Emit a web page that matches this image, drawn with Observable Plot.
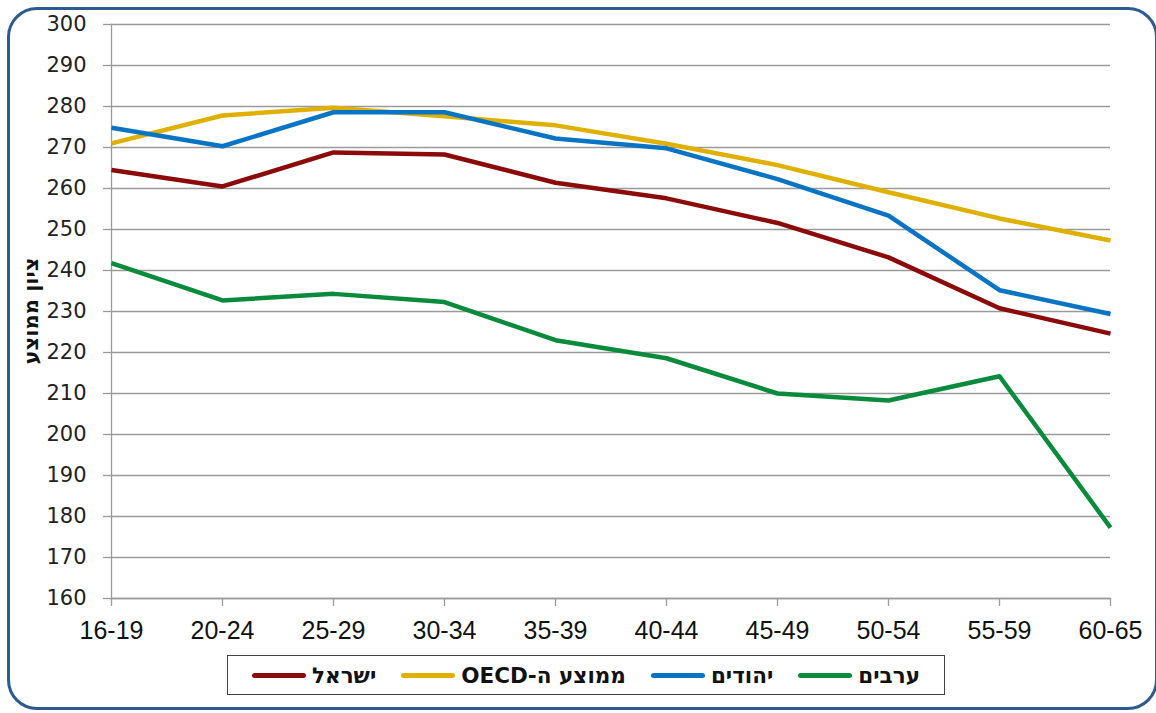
<!DOCTYPE html>
<html>
<head>
<meta charset="utf-8">
<script src="https://cdn.jsdelivr.net/npm/d3@7"></script>
<script src="https://cdn.jsdelivr.net/npm/@observablehq/plot@0.6"></script>
<style>
  html, body { margin: 0; padding: 0; background: #fff; }
  body { width: 1156px; height: 713px; position: relative; overflow: hidden; }
  #frame { position: absolute; left: 7px; top: 7px; width: 1151px; height: 703px;
           border: 3px solid #2D5B8E; border-radius: 30px; box-sizing: border-box; }
  #chart { position: absolute; left: 0; top: 0; }
  #ylabel { position: absolute; left: 31px; top: 311px; transform: translate(-50%, -50%) rotate(-90deg);
            font: bold 21px "DejaVu Sans", sans-serif; white-space: nowrap; color: #111; }
  #legend { position: absolute; left: 227px; top: 655px; width: 718px; height: 40px; box-sizing: border-box;
            border: 1.5px solid #444; display: flex; align-items: center; padding-left: 24px; gap: 25px; direction: ltr; }
  .item { display: flex; align-items: center; gap: 6px; }
  .sw { display: inline-block; width: 54px; height: 5px; border-radius: 3px; }
  .lt { font: bold 21.5px "DejaVu Sans", sans-serif; color: #111; direction: rtl; unicode-bidi: isolate; }
</style>
</head>
<body>
<div id="frame"></div>
<div id="chart"></div>
<div id="ylabel" dir="rtl">ציון ממוצע</div>
<div id="legend"></div>
<script>
const ageGroups = ["16-19","20-24","25-29","30-34","35-39","40-44","45-49","50-54","55-59","60-65"];
const seriesNames = ["ישראל", "ממוצע ה-OECD", "יהודים", "ערבים"];
const seriesColors = ["#8B0A0A", "#DFB000", "#0A74C4", "#0A8A3C"];
const israel = [264.5, 260.5, 268.8, 268.3, 261.4, 257.6, 251.6, 243.2, 230.8, 224.6];
const oecd   = [271.0, 277.8, 279.7, 277.6, 275.4, 270.9, 265.7, 259.1, 252.7, 247.3];
const jews   = [274.8, 270.3, 278.6, 278.6, 272.2, 269.8, 262.3, 253.4, 235.2, 229.4];
const arabs  = [241.8, 232.7, 234.3, 232.3, 223.0, 218.6, 210.0, 208.3, 214.2, 177.3];
const yTicks = [160,170,180,190,200,210,220,230,240,250,260,270,280,290,300];

const seriesValues = [israel, oecd, jews, arabs];
const data = seriesNames.flatMap((name, i) =>
  ageGroups.map((age, j) => ({series: name, age, value: seriesValues[i][j]})));

const chart = Plot.plot({
  width: 1156,
  height: 650,
  marginTop: 24,
  marginBottom: 52,
  marginLeft: 111,
  marginRight: 46,
  style: {background: "transparent", overflow: "visible"},
  x: {type: "point", domain: ageGroups, padding: 0, label: null},
  y: {domain: [160, 300], ticks: yTicks, label: null},
  color: {domain: seriesNames, range: seriesColors},
  marks: [
    Plot.gridY(yTicks, {stroke: "#9a9a9a", strokeOpacity: 1, strokeWidth: 1.3}),
    Plot.axisY(yTicks, {tickSize: 8, tickPadding: 17, stroke: "#9a9a9a", strokeWidth: 1.3,
      fontSize: 21, fontFamily: "DejaVu Sans", fill: "#222", label: null}),
    Plot.axisX({tickSize: 8, tickPadding: 15, stroke: "#9a9a9a", strokeWidth: 1.3,
      fontSize: 25, fontFamily: "Liberation Sans", fill: "#111", label: null}),
    Plot.frame({anchor: "left", stroke: "#9a9a9a", strokeWidth: 1.3}),
    Plot.frame({anchor: "bottom", stroke: "#9a9a9a", strokeWidth: 1.3}),
    Plot.line(data, {x: "age", y: "value", z: "series", stroke: "series", strokeWidth: 4.5,
      strokeLinejoin: "round", strokeLinecap: "butt"})
  ]
});
document.getElementById("chart").appendChild(chart);

const legend = document.getElementById("legend");
seriesNames.forEach((name, i) => {
  const item = document.createElement("div");
  item.className = "item";
  const sw = document.createElement("span");
  sw.className = "sw";
  sw.style.background = seriesColors[i];
  const t = document.createElement("span");
  t.className = "lt";
  t.textContent = name;
  item.appendChild(sw);
  item.appendChild(t);
  legend.appendChild(item);
});
</script>
</body>
</html>
